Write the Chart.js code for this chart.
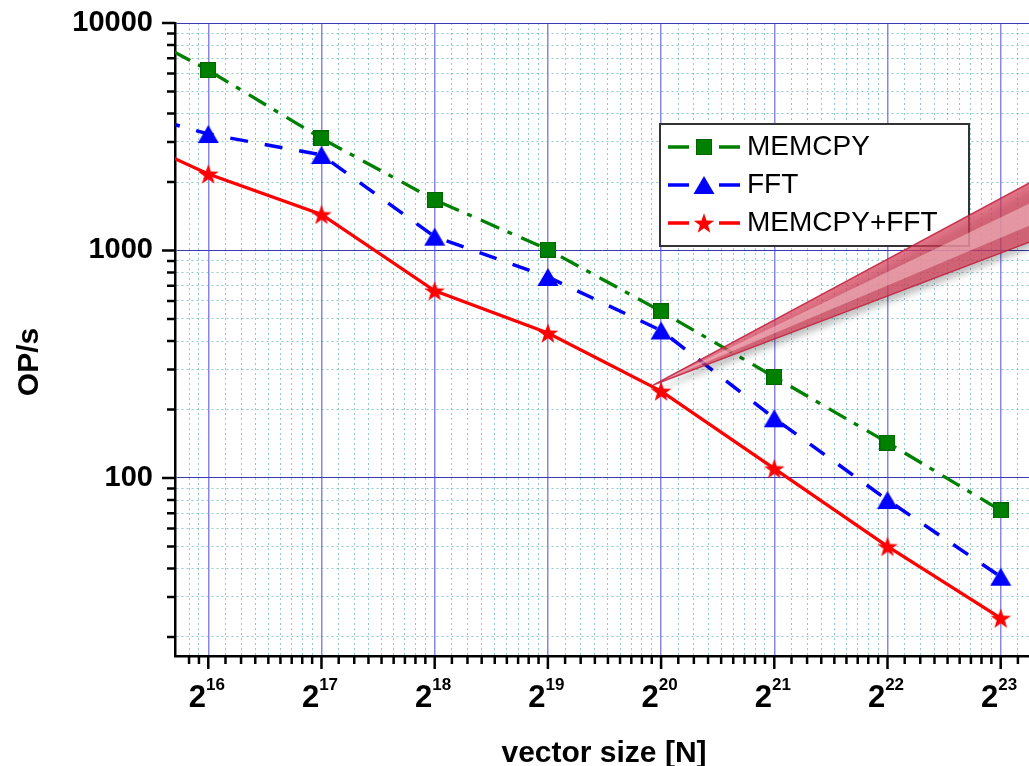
<!DOCTYPE html>
<html>
<head>
<meta charset="utf-8">
<script src="https://cdn.jsdelivr.net/npm/chart.js@4.4.1/dist/chart.umd.min.js"></script>
<style>
  html, body { margin: 0; padding: 0; background: #fff; }
  #wrap { width: 1029px; height: 766px; }
</style>
</head>
<body>
<div id="wrap"><canvas id="opsChart" width="1029" height="766"></canvas></div>
<script>
// vector size N = 2^exp (the 2^15 values only feed the stub of line at the left edge)
const sizeExp = [15, 16, 17, 18, 19, 20, 21, 22, 23];
const memcpyOps = [11500, 6200, 3110, 1670, 1010, 540, 278, 143, 72];
const fftOps = [4490, 3250, 2630, 1150, 765, 445, 183, 80, 36.8];
const memcpyFftOps = [3660, 2170, 1440, 665, 434, 241, 110, 50, 24.2];

const seriesNames = ['MEMCPY', 'FFT', 'MEMCPY+FFT'];
const xTickExp = [16, 17, 18, 19, 20, 21, 22, 23];
const yTickLabels = [100, 1000, 10000];
const calloutAtExp = 20; // the pink wedge starts at this MEMCPY+FFT point

const FONT = '"Liberation Sans", Arial, sans-serif';

// x ticks: 2^n major, minor at 2^n * (1 + k/9)
function buildXTicks(min, max) {
  const out = [];
  for (let n = 15; n <= 23; n++) {
    for (let k = 0; k < 9; k++) {
      const v = Math.pow(2, n) * (1 + k / 9);
      const e = Math.log2(v);
      if (e > 15.75 && v <= max) out.push({ value: v });
    }
  }
  return out;
}
// y ticks: 1..9 x 10^n
function buildYTicks(min, max) {
  const out = [];
  for (let n = 1; n <= 4; n++) {
    for (let k = 1; k <= 9; k++) {
      const v = k * Math.pow(10, n);
      if (v >= min && v <= max) out.push({ value: v });
    }
  }
  return out;
}
function isPow2(v) {
  const e = Math.log2(v);
  return Math.abs(e - Math.round(e)) < 1e-6;
}

// marker images
function makeMarker(w, h, drawFn) {
  const c = document.createElement('canvas');
  c.width = w; c.height = h;
  drawFn(c.getContext('2d'));
  return c;
}
const squareMark = makeMarker(16, 16, g => {
  g.fillStyle = '#008000';
  g.fillRect(0.5, 0.5, 15, 15);
  g.strokeStyle = '#006400';
  g.lineWidth = 1;
  g.strokeRect(0.5, 0.5, 15, 15);
});
const triangleMark = makeMarker(22, 20, g => {
  g.fillStyle = '#0000ff';
  g.beginPath();
  g.moveTo(11, 1);
  g.lineTo(21.5, 19);
  g.lineTo(0.5, 19);
  g.closePath();
  g.fill();
});
const starMark = makeMarker(24, 24, g => {
  g.fillStyle = '#ff0000';
  g.beginPath();
  const cx = 12, cy = 13, ro = 10.8, ri = 4.3;
  for (let i = 0; i < 10; i++) {
    const r = i % 2 ? ri : ro;
    const a = -Math.PI / 2 + i * Math.PI / 5;
    const px = cx + r * Math.cos(a), py = cy + r * Math.sin(a);
    if (i) g.lineTo(px, py); else g.moveTo(px, py);
  }
  g.closePath();
  g.fill();
});

const sizes = sizeExp.map(e => Math.pow(2, e));
const toPoints = vals => vals.map((v, i) => ({ x: sizes[i], y: v }));

// axis ticks, 2^n labels, axis titles, legend and the pink wedge
const decor = {
  id: 'decor',
  afterDraw(chart) {
    const { ctx, chartArea: area, scales: { x, y } } = chart;
    ctx.save();

    // tick marks
    ctx.strokeStyle = '#000';
    ctx.lineWidth = 2.5;
    ctx.beginPath();
    y.ticks.forEach(t => {
      const py = y.getPixelForValue(t.value);
      const len = yTickLabels.includes(t.value) ? 13 : 8;
      ctx.moveTo(area.left, py);
      ctx.lineTo(area.left - len, py);
    });
    x.ticks.forEach(t => {
      const px = x.getPixelForValue(t.value);
      const len = isPow2(t.value) ? 13 : 8;
      ctx.moveTo(px, area.bottom);
      ctx.lineTo(px, area.bottom + len);
    });
    ctx.stroke();

    // 2^n tick labels
    ctx.fillStyle = '#000';
    ctx.textBaseline = 'alphabetic';
    ctx.textAlign = 'left';
    xTickExp.forEach(e => {
      const px = x.getPixelForValue(Math.pow(2, e));
      ctx.font = 'bold 31px ' + FONT;
      const w1 = ctx.measureText('2').width;
      ctx.font = 'bold 17px ' + FONT;
      const w2 = ctx.measureText(String(e)).width;
      const left = px - (w1 + w2) / 2 - 1.5;
      ctx.font = 'bold 31px ' + FONT;
      ctx.fillText('2', left, area.bottom + 51);
      ctx.font = 'bold 17px ' + FONT;
      ctx.fillText(String(e), left + w1, area.bottom + 34);
    });

    // axis titles
    ctx.font = 'bold 30px ' + FONT;
    ctx.textAlign = 'center';
    ctx.fillText('vector size [N]', 604, 762);
    ctx.save();
    ctx.translate(38, 362);
    ctx.rotate(-Math.PI / 2);
    ctx.fillText('OP/s', 0, 0);
    ctx.restore();

    // legend
    const box = { x: 660, y: 124, w: 309, h: 122 };
    ctx.fillStyle = '#fff';
    ctx.fillRect(box.x, box.y, box.w, box.h);
    ctx.strokeStyle = '#333';
    ctx.lineWidth = 2;
    ctx.strokeRect(box.x, box.y, box.w, box.h);
    const marks = [squareMark, triangleMark, starMark];
    chart.data.datasets.forEach((ds, i) => {
      const cy = box.y + 23 + i * 38;
      const cx = 704;
      ctx.strokeStyle = ds.borderColor;
      ctx.lineWidth = 3.3;
      ctx.beginPath();
      ctx.moveTo(668, cy); ctx.lineTo(cx - 15, cy);
      ctx.moveTo(cx + 15, cy); ctx.lineTo(740, cy);
      ctx.stroke();
      const m = marks[i];
      ctx.drawImage(m, cx - m.width / 2, cy - m.height / 2);
      ctx.fillStyle = '#000';
      ctx.font = '28px ' + FONT;
      ctx.textAlign = 'left';
      ctx.textBaseline = 'middle';
      ctx.fillText(ds.label, 747, cy);
    });

    // pink callout wedge from the MEMCPY+FFT point
    const pt = chart.getDatasetMeta(2).data[sizeExp.indexOf(calloutAtExp)];
    const ax = pt.x - 8, ay = pt.y - 6;
    const endX = chart.width + 4;
    const topY = ay - (endX - ax) * 0.537;
    const botY = ay - (endX - ax) * 0.38;
    ctx.save();
    ctx.shadowColor = 'rgba(0,0,0,0.35)';
    ctx.shadowBlur = 7;
    ctx.shadowOffsetX = 2;
    ctx.shadowOffsetY = 6;
    ctx.fillStyle = 'rgba(214,62,88,0.72)';
    ctx.beginPath();
    ctx.moveTo(ax, ay); ctx.lineTo(endX, topY); ctx.lineTo(endX, botY); ctx.closePath();
    ctx.fill();
    ctx.restore();
    const inTop = topY + (botY - topY) * 0.35;
    const inBot = topY + (botY - topY) * 0.72;
    ctx.fillStyle = 'rgba(250,205,212,0.5)';
    ctx.beginPath();
    ctx.moveTo(ax + 6, ay - 3); ctx.lineTo(endX, inTop); ctx.lineTo(endX, inBot); ctx.closePath();
    ctx.fill();
    ctx.strokeStyle = 'rgba(190,30,60,0.85)';
    ctx.lineWidth = 1.5;
    ctx.beginPath();
    ctx.moveTo(endX, topY); ctx.lineTo(ax, ay); ctx.lineTo(endX, botY);
    ctx.stroke();

    ctx.restore();
  }
};

const minorDash = [2, 3];
const chart = new Chart(document.getElementById('opsChart').getContext('2d'), {
  type: 'line',
  data: {
    datasets: [
      {
        label: seriesNames[0],
        data: toPoints(memcpyOps),
        borderColor: '#008000',
        borderWidth: 3.3,
        borderDash: [20, 9, 5, 10],
        pointStyle: squareMark,
        pointRadius: 8,
        fill: false
      },
      {
        label: seriesNames[1],
        data: toPoints(fftOps),
        borderColor: '#0000ff',
        borderWidth: 3.5,
        borderDash: [18, 17],
        pointStyle: triangleMark,
        pointRadius: 8,
        fill: false
      },
      {
        label: seriesNames[2],
        data: toPoints(memcpyFftOps),
        borderColor: '#ff0000',
        borderWidth: 3.3,
        pointStyle: starMark,
        pointRadius: 8,
        fill: false
      }
    ]
  },
  options: {
    responsive: false,
    animation: false,
    devicePixelRatio: 1,
    layout: { padding: { top: 23, left: 0, right: 0, bottom: 0 }, autoPadding: false },
    plugins: { legend: { display: false }, tooltip: { enabled: false } },
    scales: {
      x: {
        type: 'logarithmic',
        min: Math.pow(2, 15.706),
        max: Math.pow(2, 23.25),
        afterBuildTicks: s => { s.ticks = buildXTicks(s.min, s.max); },
        afterFit: s => { s.height = 110; s.paddingLeft = 0; s.paddingRight = 0; },
        ticks: { display: false },
        grid: {
          drawTicks: false,
          color: c => (c.tick && isPow2(c.tick.value)) ? '#8888e2' : 'rgba(70,165,165,0.6)',
          lineWidth: c => (c.tick && isPow2(c.tick.value)) ? 1.5 : 1
        },
        border: {
          color: '#000',
          width: 2.5,
          dash: c => (c.tick && !isPow2(c.tick.value)) ? minorDash : []
        }
      },
      y: {
        type: 'logarithmic',
        min: 16.5,
        max: 10000,
        afterBuildTicks: s => { s.ticks = buildYTicks(s.min, s.max); },
        afterFit: s => { s.width = 175; s.paddingTop = 0; s.paddingBottom = 0; },
        ticks: {
          autoSkip: false,
          padding: 22,
          color: '#000',
          font: { family: FONT, size: 29, weight: 'bold' },
          callback: v => yTickLabels.includes(v) ? String(v) : ''
        },
        grid: {
          drawTicks: false,
          color: c => (c.tick && yTickLabels.includes(c.tick.value)) ? '#3a3ab8' : 'rgba(70,165,165,0.6)',
          lineWidth: 1
        },
        border: {
          color: '#000',
          width: 2.5,
          dash: c => (c.tick && !yTickLabels.includes(c.tick.value)) ? minorDash : []
        }
      }
    }
  },
  plugins: [decor]
});
</script>
</body>
</html>
